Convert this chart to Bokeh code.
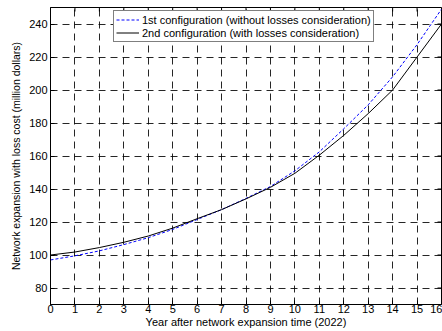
import math
from bokeh.plotting import figure
from bokeh.models import FixedTicker, Range1d, Legend, LegendItem
from bokeh.embed import file_html
from bokeh.resources import INLINE

years = list(range(17))
config1 = [97, 99.5, 102.5, 106.3, 110.5, 115.5, 121.5, 127.5, 134.3, 141.5,
           151, 162.5, 176.5, 191, 208, 227.5, 249]
config2 = [100, 101.8, 104.5, 107.7, 111.5, 116.3, 122, 127.5, 134, 141,
           149.5, 160.5, 172.5, 185.7, 200, 220, 240]
x_ticks = list(range(0, 17))
y_ticks = list(range(80, 241, 20))
label1 = "1st configuration (without losses consideration)"
label2 = "2nd configuration (with losses consideration)"
x_label = "Year after network expansion time (2022)"
y_label = "Network expansion with loss cost (million dollars)"

FONT = "Liberation Sans"
X0, X1 = 0, 16
Y0, Y1 = 70, 250

p = figure(frame_width=391, frame_height=297, output_backend="svg",
           toolbar_location=None, x_range=Range1d(X0, X1), y_range=Range1d(Y0, Y1),
           min_border_left=50, min_border_right=1, min_border_top=7, min_border_bottom=0)
p.background_fill_color = "white"
p.border_fill_color = "white"
p.outline_line_color = "black"
p.outline_line_width = 1

for ax in (p.xaxis[0], p.yaxis[0]):
    ax.major_tick_in = 4
    ax.major_tick_out = 0
    ax.minor_tick_in = 0
    ax.minor_tick_out = 0
    ax.axis_line_color = "black"
    ax.major_tick_line_color = "black"
    ax.major_label_text_font = FONT
    ax.major_label_text_font_size = "11px"
    ax.major_label_text_color = "black"
    ax.axis_label_text_font = FONT
    ax.axis_label_text_font_style = "normal"
    ax.axis_label_text_color = "black"

p.xaxis[0].axis_label_text_font_size = "11px"
p.yaxis[0].axis_label_text_font_size = "10.5px"
p.xaxis[0].ticker = FixedTicker(ticks=x_ticks)
p.yaxis[0].ticker = FixedTicker(ticks=y_ticks)
p.xaxis[0].axis_label = x_label
p.yaxis[0].axis_label = y_label
p.xaxis[0].major_label_standoff = 0
p.xaxis[0].axis_label_standoff = 0
p.yaxis[0].major_label_standoff = 3
p.yaxis[0].axis_label_standoff = 4

p.xgrid.ticker = FixedTicker(ticks=x_ticks)
p.ygrid.ticker = FixedTicker(ticks=y_ticks)
for g in (p.xgrid[0], p.ygrid[0]):
    g.grid_line_color = "black"
    g.grid_line_alpha = 0.85
    g.grid_line_dash = "7 5"
    g.grid_line_width = 1

# inward tick marks on the top and right edges of the box (clipped to the frame)
p.scatter(x_ticks, [Y1] * len(x_ticks), marker="dash", angle=math.pi / 2, size=8,
          line_color="black", line_width=1)
p.scatter([X1] * len(y_ticks), y_ticks, marker="dash", size=8,
          line_color="black", line_width=1)

r1 = p.line(years, config1, line_color="#0000ff", line_width=1, line_dash="3 2")
r2 = p.line(years, config2, line_color="black", line_width=1)

legend = Legend(items=[LegendItem(label=label1, renderers=[r1]),
                       LegendItem(label=label2, renderers=[r2])],
                location=(63, 262))
legend.label_text_font = FONT
legend.label_text_font_size = "11px"
legend.label_text_color = "black"
legend.label_height = 13
legend.label_standoff = 3
legend.glyph_width = 23
legend.glyph_height = 13
legend.spacing = 0
legend.padding = 2
legend.margin = 0
legend.border_line_color = "black"
legend.border_line_width = 1
legend.background_fill_alpha = 1
p.add_layout(legend, "center")

open("out.html", "w").write(file_html(p, INLINE))
